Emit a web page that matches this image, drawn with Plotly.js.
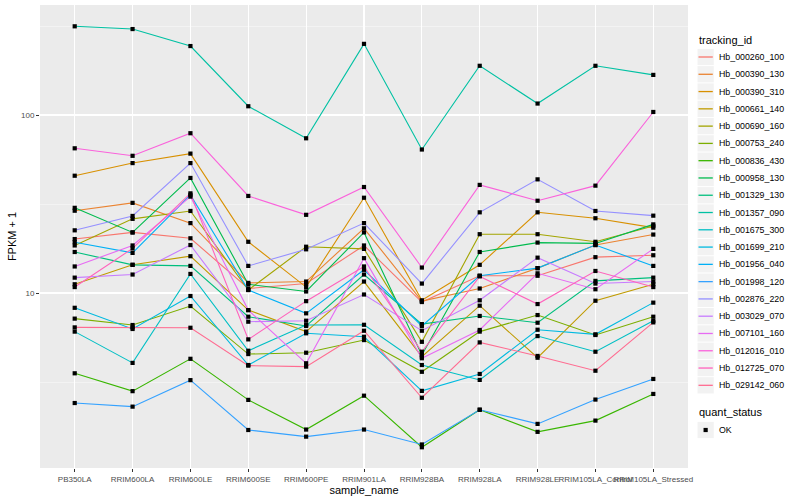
<!DOCTYPE html>
<html><head><meta charset="utf-8">
<script src="https://cdn.plot.ly/plotly-3.0.1.min.js"></script>
<style>html,body{margin:0;padding:0;background:#fff}</style>
</head><body><div id="chart" style="width:800px;height:500px"></div>
<script>
const sampleNames = ["PB350LA","RRIM600LA","RRIM600LE","RRIM600SE","RRIM600PE","RRIM901LA","RRIM928BA","RRIM928LA","RRIM928LE","RRIM105LA_Control","RRIM105LA_Stressed"];
const trackingIds = ["Hb_000260_100","Hb_000390_130","Hb_000390_310","Hb_000661_140","Hb_000690_160","Hb_000753_240","Hb_000836_430","Hb_000958_130","Hb_001329_130","Hb_001357_090","Hb_001675_300","Hb_001699_210","Hb_001956_040","Hb_001998_120","Hb_002876_220","Hb_003029_070","Hb_007101_160","Hb_012016_010","Hb_012725_070","Hb_029142_060"];
const seriesColors = ["#F8766D","#EA8331","#D89000","#C09B00","#A3A500","#7CAE00","#39B600","#00BB4E","#00BF7D","#00C1A3","#00BFC4","#00BAE0","#00B0F6","#35A2FF","#9590FF","#C77CFF","#E76BF3","#FA62DB","#FF62BC","#FF6C91"];
const quantStatus = ["OK"];

// FPKM + 1 per sample, in sampleNames order
const hb_000260_100 = [20.1, 21.9, 20.3, 10.6, 11.3, 18.5, 8.9, 12.5, 12.5, 15.9, 16.3];
const hb_000390_130 = [29.0, 32.1, 24.7, 11.4, 11.6, 23.1, 9.0, 10.6, 13.8, 18.6, 21.3];
const hb_000390_310 = [45.6, 53.7, 60.7, 19.4, 10.8, 34.3, 9.1, 14.4, 28.4, 26.3, 23.3];
const hb_000661_140 = [11.2, 14.4, 16.1, 8.02, 6.07, 11.6, 4.39, 8.49, 4.33, 9.05, 11.2];
const hb_000690_160 = [18.5, 26.1, 28.9, 10.4, 18.2, 17.7, 5.32, 21.4, 21.4, 19.4, 23.8];
const hb_000753_240 = [7.18, 6.61, 8.45, 4.54, 4.62, 5.44, 3.61, 6.07, 7.52, 5.81, 7.36];
const hb_000836_430 = [3.54, 2.81, 4.27, 2.51, 1.71, 2.65, 1.36, 2.21, 1.66, 1.92, 2.71];
const hb_000958_130 = [30.1, 21.9, 44.3, 11.2, 10.2, 21.9, 4.49, 17.0, 19.2, 19.0, 24.3];
const hb_001329_130 = [17.0, 14.4, 14.2, 7.36, 6.53, 12.7, 6.69, 7.43, 6.81, 11.7, 12.2];
const hb_001357_090 = [315, 304, 244, 112, 74, 251, 64, 189, 116, 189, 168];
const hb_001675_300 = [6.07, 4.05, 12.8, 4.74, 6.61, 6.63, 3.94, 3.25, 5.73, 4.68, 6.98];
const hb_001699_210 = [8.26, 6.28, 9.62, 3.94, 5.94, 5.68, 2.82, 3.51, 6.22, 5.86, 8.83];
const hb_001956_040 = [19.3, 16.8, 35.6, 10.4, 7.69, 13.5, 6.53, 12.5, 13.8, 18.6, 14.2];
const hb_001998_120 = [2.41, 2.30, 3.24, 1.70, 1.56, 1.71, 1.41, 2.21, 1.84, 2.52, 3.29];
const hb_002876_220 = [22.5, 27.1, 53.7, 14.2, 17.6, 24.7, 11.3, 28.4, 43.5, 28.9, 27.2];
const hb_003029_070 = [12.2, 12.7, 18.6, 6.90, 6.99, 9.81, 6.14, 9.10, 15.8, 11.3, 11.6];
const hb_007101_160 = [14.1, 18.5, 34.8, 8.02, 4.03, 15.7, 4.30, 6.20, 12.9, 10.5, 17.7];
const hb_012016_010 = [65, 59, 79, 35.1, 27.5, 39.4, 13.9, 40.5, 33.0, 40.1, 104];
const hb_012725_070 = [10.8, 17.8, 36.3, 5.49, 9.0, 14.1, 4.68, 12.4, 8.67, 13.3, 10.8];
const hb_029142_060 = [6.41, 6.41, 6.38, 3.91, 3.86, 6.14, 2.58, 5.28, 4.43, 3.66, 6.84];

const allSeries = [hb_000260_100, hb_000390_130, hb_000390_310, hb_000661_140, hb_000690_160, hb_000753_240, hb_000836_430, hb_000958_130, hb_001329_130, hb_001357_090, hb_001675_300, hb_001699_210, hb_001956_040, hb_001998_120, hb_002876_220, hb_003029_070, hb_007101_160, hb_012016_010, hb_012725_070, hb_029142_060];

const FONT = '"Liberation Sans", Arial, Helvetica, sans-serif';
const traces = allSeries.map((vals, i) => ({
  type: 'scatter', mode: 'lines', x: sampleNames, y: vals,
  name: trackingIds[i], line: {color: seriesColors[i], width: 1.1},
  showlegend: false, hoverinfo: 'skip'
}));
const ptsX = [], ptsY = [];
allSeries.forEach(vals => vals.forEach((v, j) => { ptsX.push(sampleNames[j]); ptsY.push(v); }));
traces.push({
  type: 'scatter', mode: 'markers', x: ptsX, y: ptsY, name: quantStatus[0],
  marker: {color: '#000000', size: 4.2, symbol: 'square'}, showlegend: false, hoverinfo: 'skip'
});

// legend drawn in paper coordinates (ggplot-style keys)
const PL = 40, PR = 688, PT = 5, PB = 468;
const px = p => (p - PL) / (PR - PL);
const py = p => (PB - p) / (PB - PT);
const KEY = 17.28, KX = 697, ITEM0 = 57;
const boxShapes = [], keyShapes = [], annotations = [];
annotations.push({xref: 'paper', yref: 'paper', x: px(KX), y: py(40), xanchor: 'left', yanchor: 'middle',
  text: 'tracking_id', showarrow: false, font: {family: FONT, size: 11, color: '#000000'}});
trackingIds.forEach((id, i) => {
  const cy = ITEM0 + i * KEY;
  boxShapes.push({type: 'rect', xref: 'paper', yref: 'paper', x0: px(KX + 0.5), x1: px(KX + KEY - 0.5), y0: py(cy - KEY / 2 + 0.5), y1: py(cy + KEY / 2 - 0.5),
    fillcolor: '#F2F2F2', line: {width: 0}, layer: 'above'});
  keyShapes.push({type: 'line', xref: 'paper', yref: 'paper', x0: px(KX + 1.5), x1: px(KX + KEY - 1.5), y0: py(cy), y1: py(cy),
    line: {color: seriesColors[i], width: 1.3}, layer: 'above'});
  annotations.push({xref: 'paper', yref: 'paper', x: px(KX + KEY + 2.5), y: py(cy), xanchor: 'left', yanchor: 'middle',
    text: id, showarrow: false, font: {family: FONT, size: 8.8, color: '#000000'}});
});
annotations.push({xref: 'paper', yref: 'paper', x: px(KX), y: py(412), xanchor: 'left', yanchor: 'middle',
  text: 'quant_status', showarrow: false, font: {family: FONT, size: 11, color: '#000000'}});
const okY = 430;
boxShapes.push({type: 'rect', xref: 'paper', yref: 'paper', x0: px(KX + 0.5), x1: px(KX + KEY - 0.5), y0: py(okY - KEY / 2 + 0.5), y1: py(okY + KEY / 2 - 0.5),
  fillcolor: '#F2F2F2', line: {width: 0}, layer: 'above'});
keyShapes.push({type: 'rect', xref: 'paper', yref: 'paper', x0: px(KX + KEY / 2 - 2.1), x1: px(KX + KEY / 2 + 2.1), y0: py(okY - 2.1), y1: py(okY + 2.1),
  fillcolor: '#000000', line: {width: 0}, layer: 'above'});
annotations.push({xref: 'paper', yref: 'paper', x: px(KX + KEY + 2.5), y: py(okY), xanchor: 'left', yanchor: 'middle',
  text: quantStatus[0], showarrow: false, font: {family: FONT, size: 8.8, color: '#000000'}});

const layout = {
  width: 800, height: 500,
  margin: {l: PL, r: 800 - PR, t: PT, b: 500 - PB},
  paper_bgcolor: '#FFFFFF', plot_bgcolor: '#EBEBEB',
  font: {family: FONT, color: '#000000'},
  showlegend: false,
  shapes: boxShapes.concat(keyShapes), annotations: annotations,
  xaxis: {
    type: 'category', categoryorder: 'array', categoryarray: sampleNames,
    range: [-0.6, 10.6], tickangle: 0,
    showgrid: true, gridcolor: '#FFFFFF', gridwidth: 1.1, zeroline: false,
    ticks: 'outside', ticklen: 3, tickcolor: '#333333', tickwidth: 1,
    tickfont: {family: FONT, size: 8, color: '#4D4D4D'},
    title: {text: 'sample_name', font: {family: FONT, size: 11, color: '#000000'}, standoff: 2},
    showline: false, automargin: false
  },
  yaxis: {
    type: 'log', range: [0.017, 2.618],
    tickmode: 'array', tickvals: [10, 100], ticktext: ['10', '100'],
    showgrid: true, gridcolor: '#FFFFFF', gridwidth: 1.1, zeroline: false,
    ticks: 'outside', ticklen: 3, tickcolor: '#333333', tickwidth: 1,
    tickfont: {family: FONT, size: 8, color: '#4D4D4D'},
    minor: {tickmode: 'array', tickvals: [3.1623, 31.623, 316.23], showgrid: true, gridcolor: '#F8F8F8', gridwidth: 0.6, ticks: ''},
    title: {text: 'FPKM + 1', font: {family: FONT, size: 11, color: '#000000'}, standoff: 2},
    showline: false, automargin: false
  }
};
Plotly.newPlot('chart', traces, layout, {displayModeBar: false, staticPlot: true});
</script></body></html>
